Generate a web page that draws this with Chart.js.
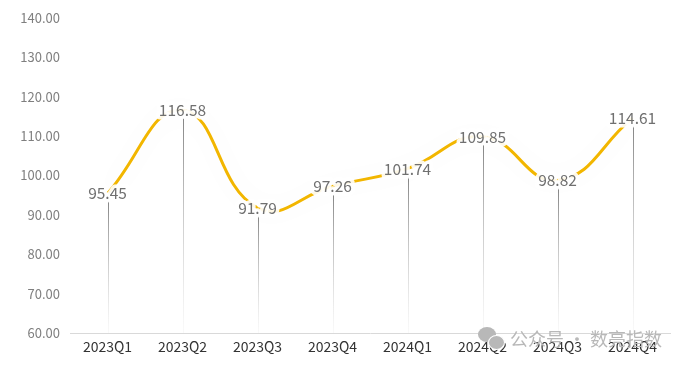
<!DOCTYPE html>
<html>
<head>
<meta charset="utf-8">
<script src="https://cdn.jsdelivr.net/npm/chart.js@4.4.1/dist/chart.umd.min.js"></script>
<style>
  html, body { margin: 0; padding: 0; background: #fff; }
  #wrap { position: relative; width: 688px; height: 366px; }
  #mark {
    position: absolute; left: 478px; top: 325px;
    font-family: "Noto Sans CJK SC", sans-serif; font-size: 18px; color: #b8b8b8;
    display: flex; align-items: center; gap: 6px; white-space: nowrap;
  }
  #mark .ico { position: relative; width: 26px; height: 22px; }
  #mark .ico span { position: absolute; border-radius: 50%; background: #b8b8b8; }
</style>
</head>
<body>
<div id="wrap">
  <canvas id="chart" width="688" height="366"></canvas>
  <div id="mark"><div class="ico"><span style="left:0;top:0;width:18px;height:15px"></span><span style="left:10px;top:8px;width:15px;height:13px;border:1px solid #fff"></span></div>公众号 · 数亮指数</div>
</div>
<script>
// data
const quarters = ["2023Q1", "2023Q2", "2023Q3", "2023Q4", "2024Q1", "2024Q2", "2024Q3", "2024Q4"];
const indexValues = [95.45, 116.58, 91.79, 97.26, 101.74, 109.85, 98.82, 114.61];
const yMin = 60, yMax = 140, yStep = 10;

const FONT = '"Noto Sans CJK SC", "Noto Sans", sans-serif';

// vertical drop lines from each point to the axis
const dropLines = {
  id: "dropLines",
  beforeDatasetsDraw(chart) {
    const ctx = chart.ctx;
    const bottom = chart.chartArea.bottom;
    chart.getDatasetMeta(0).data.forEach(pt => {
      const top = pt.y + 8;
      const g = ctx.createLinearGradient(0, top, 0, bottom);
      g.addColorStop(0, "rgba(120,120,120,0.9)");
      g.addColorStop(1, "rgba(200,200,200,0.1)");
      ctx.save();
      ctx.strokeStyle = g;
      ctx.lineWidth = 1;
      ctx.beginPath();
      ctx.moveTo(Math.round(pt.x) + 0.5, top);
      ctx.lineTo(Math.round(pt.x) + 0.5, bottom);
      ctx.stroke();
      ctx.restore();
    });
  }
};

// value labels on the points, white outline over the line
const valueLabels = {
  id: "valueLabels",
  afterDatasetsDraw(chart) {
    const ctx = chart.ctx;
    ctx.save();
    ctx.font = "15.5px " + FONT;
    ctx.textAlign = "center";
    ctx.textBaseline = "middle";
    chart.getDatasetMeta(0).data.forEach((pt, i) => {
      const txt = indexValues[i].toFixed(2);
      ctx.lineWidth = 7;
      ctx.strokeStyle = "rgba(255,255,255,0.9)";
      ctx.lineJoin = "round";
      ctx.strokeText(txt, pt.x, pt.y);
      ctx.fillStyle = "#707070";
      ctx.fillText(txt, pt.x, pt.y);
    });
    ctx.restore();
  }
};

// soft halo under the line
const halo = {
  id: "halo",
  beforeDatasetDraw(chart) {
    chart.ctx.save();
    chart.ctx.shadowColor = "rgba(0,0,0,0.07)";
    chart.ctx.shadowBlur = 26;
  },
  afterDatasetDraw(chart) {
    chart.ctx.restore();
  }
};

new Chart(document.getElementById("chart"), {
  type: "line",
  data: {
    labels: quarters,
    datasets: [{
      data: indexValues,
      borderColor: "#f2b600",
      borderWidth: 3,
      tension: 0.45,
      pointRadius: 0,
      fill: false
    }]
  },
  options: {
    responsive: false,
    animation: false,
    layout: { padding: { top: 12, right: 18, bottom: 6, left: 0 } },
    plugins: { legend: { display: false }, tooltip: { enabled: false } },
    scales: {
      x: {
        offset: true,
        grid: { display: false, drawTicks: false, offset: true },
        border: { display: true, color: "#d9d9d9" },
        ticks: { color: "#333", font: { family: FONT, size: 14 }, padding: 5, maxRotation: 0 }
      },
      y: {
        min: yMin, max: yMax,
        afterFit(scale) { scale.width = 70; },
        grid: { display: false, drawTicks: false },
        border: { display: false },
        ticks: {
          stepSize: yStep, padding: 10,
          color: "#7f7f7f", font: { family: FONT, size: 13 },
          callback: v => v.toFixed(2)
        }
      }
    }
  },
  plugins: [dropLines, halo, valueLabels]
});
</script>
</body>
</html>
